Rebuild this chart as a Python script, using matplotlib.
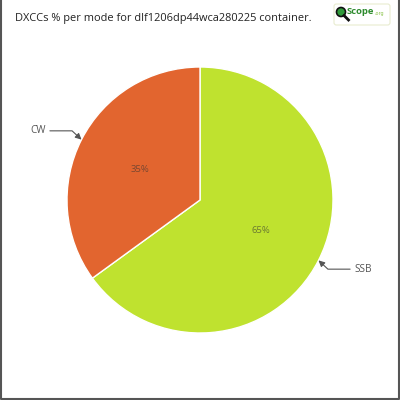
import matplotlib.pyplot as plt
from matplotlib.patches import Circle, FancyBboxPatch

# data
modes = ['SSB', 'CW']
shares = [65, 35]
colors = ['#BFE22F', '#E2652F']
title = 'DXCCs % per mode for dlf1206dp44wca280225 container.'

fig = plt.figure(figsize=(4, 4), dpi=100)
fig.patch.set_facecolor('white')

# frame on left, bottom and right
fig.add_artist(plt.Line2D([0.002, 0.002, 0.998, 0.998], [1.0, 0.002, 0.002, 1.0],
                          transform=fig.transFigure, color='#555555', linewidth=1.5))

fig.text(15 / 400, 1 - 18 / 400, title, fontsize=7.9, family='Open Sans',
         color='#222222', va='center', ha='left')

# logo
fig.add_artist(FancyBboxPatch((334 / 400, 1 - 25 / 400), 56 / 400, 21 / 400,
                              boxstyle='round,pad=0,rounding_size=0.006',
                              transform=fig.transFigure, facecolor='white',
                              edgecolor='#e8ecd0', linewidth=0.8))
fig.add_artist(Circle((341 / 400, 1 - 12 / 400), 4.5 / 400, transform=fig.transFigure,
                      facecolor='#2f9a3a', edgecolor='#111111', linewidth=1.2))
fig.add_artist(plt.Line2D([344 / 400, 348.5 / 400], [1 - 15.5 / 400, 1 - 20 / 400],
                          transform=fig.transFigure, color='#111111', linewidth=2))
fig.text(347 / 400, 1 - 12 / 400, 'Scope', fontsize=6.8, fontweight='bold',
         color='#2e8b2e', va='center', ha='left', family='Open Sans')
fig.text(374 / 400, 1 - 14 / 400, '.org', fontsize=3.5, color='#8bc34a',
         va='center', ha='left')

ax = fig.add_axes([67 / 400, 67 / 400, 266 / 400, 266 / 400])
wedges, texts, autotexts = ax.pie(
    shares, colors=colors, startangle=90, counterclock=False,
    autopct='%d%%', pctdistance=0.51, radius=1,
    wedgeprops=dict(edgecolor='white', linewidth=1),
    textprops=dict(fontsize=6.8, color='#333333', alpha=0.6, family='Open Sans'))
ax.set_xlim(-1, 1)
ax.set_ylim(-1, 1)
ax.set_aspect('equal')
ax.axis('off')

# outside labels with arrows
label_pos = {'CW': (-1.16, 0.52, 'right'), 'SSB': (1.16, -0.52, 'left')}
tips = {'CW': (-0.891, 0.454), 'SSB': (0.891, -0.454)}
for m in modes:
    tx, ty, ha = label_pos[m]
    ax.annotate(m, xy=tips[m], xytext=(tx, ty), ha=ha, va='center',
                fontsize=7.2, color='#555555', family='Open Sans',
                annotation_clip=False,
                arrowprops=dict(arrowstyle='-|>,head_length=0.5,head_width=0.25',
                                color='#555555', lw=0.8, shrinkA=1, shrinkB=0,
                                connectionstyle='angle,angleA=0,angleB=137,rad=0'))

fig.savefig('out.png', dpi=100)
